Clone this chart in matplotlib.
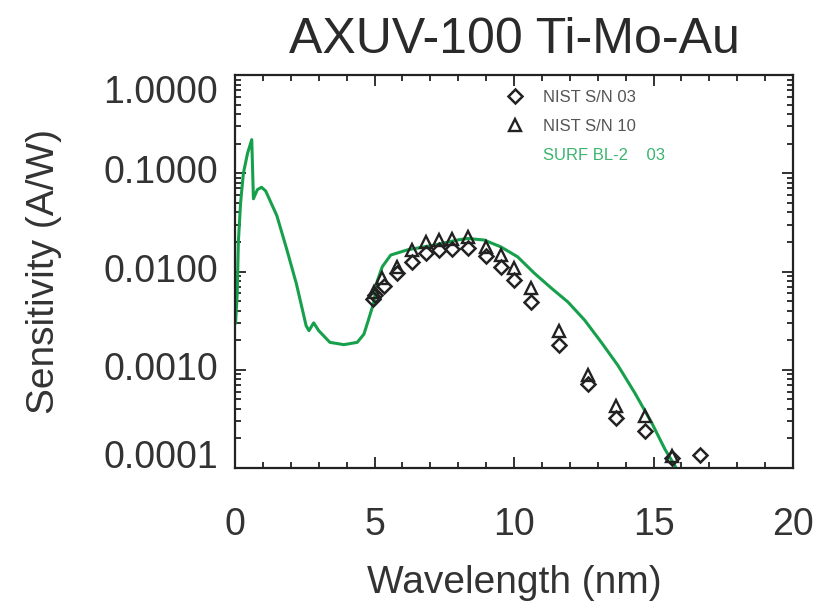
import matplotlib
matplotlib.use("Agg")
import matplotlib.pyplot as plt
import matplotlib.ticker as mticker
from matplotlib.lines import Line2D

plt.rcParams['font.family'] = ['Liberation Sans', 'DejaVu Sans']

# curva SURF BL-2
surf_wl = [0.02, 0.08, 0.12, 0.2, 0.3, 0.45, 0.6, 0.66, 0.8, 0.95, 1.1, 1.5,
           1.85, 2.2, 2.55, 2.65, 2.82, 3.0, 3.4, 3.9, 4.38, 4.62, 4.78, 4.97,
           5.1, 5.28, 5.58, 6.18, 7.15, 8.0, 8.35, 8.93, 9.53, 10.13, 10.73,
           11.33, 11.93, 12.53, 13.13, 13.73, 14.33, 14.93, 15.41, 15.77]
surf_sens = [0.003, 0.006, 0.02, 0.05, 0.1, 0.16, 0.22, 0.055, 0.068, 0.072,
             0.066, 0.037, 0.017, 0.0075, 0.0028, 0.0025, 0.003, 0.0025, 0.0019,
             0.0018, 0.0019, 0.0023, 0.0032, 0.0048, 0.008, 0.0112, 0.0147,
             0.0166, 0.0186, 0.0210, 0.0217, 0.0209, 0.0178, 0.0141, 0.0096,
             0.0068, 0.0049, 0.0032, 0.0019, 0.0011, 0.00058, 0.00029, 0.000155,
             0.000105]

# NIST S/N 03 (losangos)
n03_wl = [4.95, 5.0, 5.33, 5.81, 6.35, 6.83, 7.31, 7.79, 8.35, 9.0, 9.53,
          10.01, 10.61, 11.63, 12.65, 13.67, 14.69, 15.65, 16.67]
n03_sens = [0.0052, 0.0058, 0.0071, 0.0096, 0.0126, 0.0153, 0.0166, 0.0168,
            0.0172, 0.0144, 0.0112, 0.0082, 0.0049, 0.0018, 0.00071, 0.00032,
            0.00024, 0.000127, 0.000137]

# NIST S/N 10 (triangulos)
n10_wl = [4.97, 5.28, 5.81, 6.35, 6.83, 7.31, 7.79, 8.35, 9.0, 9.53, 10.01,
          10.61, 11.63, 12.65, 13.67, 14.69, 15.65]
n10_sens = [0.0062, 0.0085, 0.0112, 0.0166, 0.0200, 0.0209, 0.0214, 0.0226,
            0.0178, 0.0147, 0.0108, 0.0068, 0.0025, 0.00089, 0.00043, 0.00034,
            0.000132]

green = '#17a04c'
txt = '#333333'

fig = plt.figure(figsize=(8.31, 6.08), dpi=100)
ax = fig.add_axes([0.2828, 0.2303, 0.6715, 0.6463])

ax.plot(surf_wl, surf_sens, color=green, lw=2.2, zorder=2)
ax.plot(n03_wl, n03_sens, ls='none', marker='D', ms=7, mfc='none',
        mec='#222222', mew=1.8, zorder=3)
ax.plot(n10_wl, n10_sens, ls='none', marker='^', ms=9, mfc='none',
        mec='#222222', mew=1.7, zorder=3)

ax.set_yscale('log')
ax.set_xlim(0, 20)
ax.set_ylim(1e-4, 1)

ax.xaxis.set_major_locator(mticker.MultipleLocator(5))
ax.xaxis.set_minor_locator(mticker.MultipleLocator(1))
ax.yaxis.set_major_locator(mticker.LogLocator(base=10, numticks=10))
ax.yaxis.set_minor_locator(mticker.LogLocator(base=10, subs=range(2, 10), numticks=20))
ax.yaxis.set_minor_formatter(mticker.NullFormatter())
ax.yaxis.set_major_formatter(mticker.FuncFormatter(lambda v, p: '%.4f' % v))

ax.tick_params(which='both', direction='in', top=True, right=True,
               colors='#222222', width=1.3, labelcolor=txt, labelsize=27)
ax.tick_params(which='major', length=8)
ax.tick_params(which='minor', length=4)
ax.tick_params(axis='x', pad=28)
ax.tick_params(axis='y', pad=12)

for s in ax.spines.values():
    s.set_linewidth(1.6)
    s.set_color('#222222')

# rotulos do topo e da base ficam para dentro, como no original
fig.canvas.draw()
ylabs = ax.get_yticklabels()
for lab in ylabs:
    v = lab.get_position()[1]
    if abs(v - 1.0) < 1e-9:
        lab.set_verticalalignment('top')
    elif abs(v - 1e-4) < 1e-12:
        lab.set_verticalalignment('baseline')
    else:
        lab.set_verticalalignment('center')

ax.set_xlabel('Wavelength (nm)', fontsize=28, color=txt, labelpad=16)
ax.set_ylabel('Sensitivity (A/W)', fontsize=28, color=txt, labelpad=30)
ax.set_title('AXUV-100 Ti-Mo-Au', fontsize=36, color='#2a2a2a', pad=16)

handles = [Line2D([], [], ls='none', marker='D', ms=7, mfc='none', mec='#222222', mew=1.8),
           Line2D([], [], ls='none', marker='^', ms=9, mfc='none', mec='#222222', mew=1.7),
           Line2D([], [], ls='none')]
labels = ['NIST S/N 03', 'NIST S/N 10', 'SURF BL-2    03']
leg = ax.legend(handles, labels, loc='upper left', bbox_to_anchor=(0.487, 0.962),
                frameon=False, fontsize=12, handlelength=1.0, handletextpad=1.2,
                labelspacing=0.85, borderpad=0, borderaxespad=0)
leg_colors = ['#555555', '#555555', '#3cb46e']
for t, c in zip(leg.get_texts(), leg_colors):
    t.set_color(c)

plt.savefig('out.png', dpi=100)
